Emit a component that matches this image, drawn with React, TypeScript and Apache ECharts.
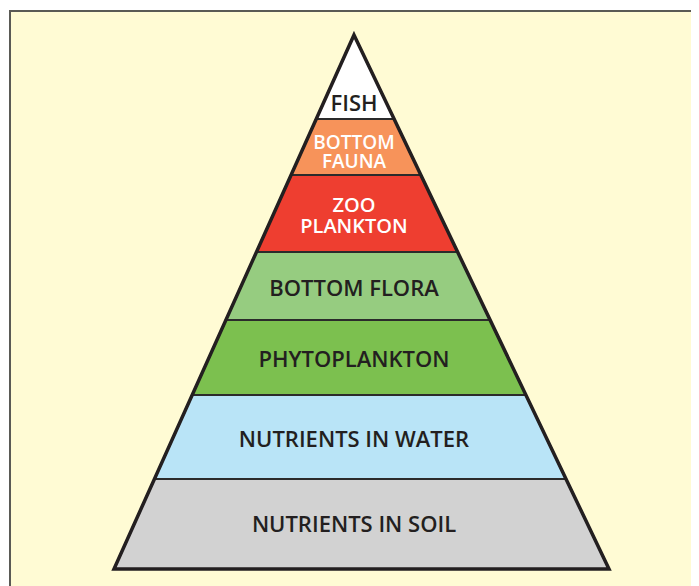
import React, { useEffect, useRef } from "react";
import * as echarts from "echarts";

// Trophic pyramid layers, top to bottom
const layerNames = [
  "FISH",
  "BOTTOM\nFAUNA",
  "ZOO\nPLANKTON",
  "BOTTOM FLORA",
  "PHYTOPLANKTON",
  "NUTRIENTS IN WATER",
  "NUTRIENTS IN SOIL",
];
// relative thickness of each layer
const layerHeights = [84, 56, 77, 68, 75, 84, 90];

const layerColors = ["#FFFFFF", "#F7935A", "#EE3E30", "#96CC80", "#7CC04F", "#B9E4F7", "#D2D2D2"];
const labelColors = ["#231F20", "#FFFFFF", "#FFFFFF", "#231F20", "#231F20", "#231F20", "#231F20"];
const labelSizes = [22, 19, 20, 22, 22, 22, 22];
const labelLineHeights = [22, 19, 21, 22, 22, 22, 22];
const labelShift = [0, 4, 1, 1, 0, 1, -1];

// base extent left/right of the apex, in pixels of the pyramid's own frame
const baseLeft = -240;
const baseRight = 255;

export default function App() {
  const ref = useRef<HTMLDivElement>(null);
  useEffect(() => {
    if (!ref.current) return;
    const chart = echarts.init(ref.current, null, { renderer: "svg" });
    const total = layerHeights.reduce((a, b) => a + b, 0);
    const data: number[][] = [];
    let acc = 0;
    layerHeights.forEach((h, i) => {
      data.push([acc, acc + h, i]);
      acc += h;
    });

    const L = (d: number) => (baseLeft * d) / total;
    const R = (d: number) => (baseRight * d) / total;

    const renderLayer = (params: any, api: any) => {
      const start = api.value(0);
      const end = api.value(1);
      const idx = api.value(2);
      const p = (x: number, d: number) => api.coord([x, d]);
      const pts = [p(L(start), start), p(R(start), start), p(R(end), end), p(L(end), end)];
      const labelDepth = start === 0 ? start + 0.8 * (end - start) : (start + end) / 2;
      const c = p(0, labelDepth);
      return {
        type: "group",
        children: [
          {
            type: "polygon",
            shape: { points: pts },
            style: { fill: layerColors[idx], stroke: "#2b2b2b", lineWidth: 2 },
          },
          {
            type: "text",
            x: c[0],
            y: c[1] + labelShift[idx],
            z2: 10,
            style: {
              text: layerNames[idx],
              fill: labelColors[idx],
              fontFamily: "Open Sans",
              fontWeight: 600,
              fontSize: labelSizes[idx],
              lineHeight: labelLineHeights[idx],
              align: "center",
              verticalAlign: "middle",
            },
          },
        ],
      };
    };

    const renderOutline = (params: any, api: any) => {
      const d0 = api.value(0);
      const d1 = api.value(1);
      const p = (x: number, d: number) => api.coord([x, d]);
      return {
        type: "polygon",
        shape: { points: [p(0, d0), p(R(d1), d1), p(L(d1), d1)] },
        style: { fill: "none", stroke: "#231F20", lineWidth: 3.5, lineJoin: "miter" },
      };
    };

    chart.setOption({
      animation: false,
      graphic: [
        {
          type: "rect",
          z: -10,
          shape: { x: 2, y: 3, width: 760, height: 640 },
          style: { fill: "#FFFBD4", stroke: "#5a5a55", lineWidth: 2 },
        },
      ],
      grid: { left: 106, top: 27, width: 495, height: 534 },
      xAxis: { type: "value", min: baseLeft, max: baseRight, show: false },
      yAxis: { type: "value", min: 0, max: total, inverse: true, show: false },
      series: [
        { type: "custom", renderItem: renderLayer, data, z: 2 },
        { type: "custom", renderItem: renderOutline, data: [[0, total]], z: 3 },
      ],
    });
    return () => chart.dispose();
  }, []);
  return <div ref={ref} style={{ width: 691, height: 578 }} />;
}
